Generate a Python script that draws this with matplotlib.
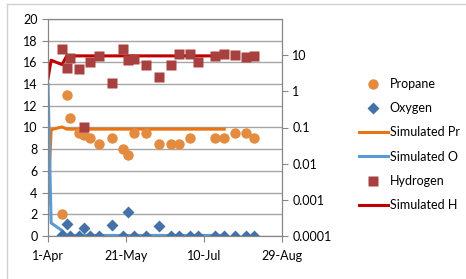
import numpy as np
import pandas as pd
import matplotlib
matplotlib.use("Agg")
import matplotlib.pyplot as plt
import matplotlib.dates as mdates
from matplotlib.lines import Line2D

plt.rcParams['font.family'] = ['Lato', 'DejaVu Sans']

# sample dates (measured)
sample_dates = pd.to_datetime([
    '2013-04-10', '2013-04-13', '2013-04-15', '2013-04-21', '2013-04-24',
    '2013-04-28', '2013-05-04', '2013-05-12', '2013-05-19', '2013-05-22',
    '2013-05-26', '2013-06-03', '2013-06-11', '2013-06-19', '2013-06-24',
    '2013-07-01', '2013-07-06', '2013-07-17', '2013-07-23', '2013-07-30',
    '2013-08-06', '2013-08-11'])
propane = [2.0, 13.0, 10.9, 9.5, 9.3, 9.0, 8.45, 9.0, 8.0, 7.5, 9.5,
           9.5, 8.5, 8.5, 8.5, 9.0, np.nan, 9.0, 9.0, 9.5, 9.5, 9.0]
oxygen = [0.05, 1.1, 0.0, 0.0, 0.7, 0.0, 0.0, 1.0, 0.0, 2.2, 0.0,
          0.0, 0.9, 0.0, 0.0, 0.0, 0.0, 0.0, 0.0, 0.0, 0.0, 0.0]
hydrogen = [17.2, 15.5, 16.4, 15.4, 10.0, 16.0, 16.6, 14.1, 17.2, 16.2, 16.3,
            15.8, 14.7, 15.8, 16.8, 16.8, 16.0, 16.6, 16.8, 16.7, 16.5, 16.6]

# simulated curves
sim_dates = pd.to_datetime(['2013-04-01', '2013-04-03', '2013-04-10',
                            '2013-04-13', '2013-07-23'])
sim_pr = [2.9, 9.8, 10.05, 9.85, 9.85]
sim_o = [14.0, 1.2, 0.5, 0.05, 0.05]
sim_h = [14.5, 16.2, 15.8, 16.6, 16.6]

xticks = pd.to_datetime(['2013-04-01', '2013-05-21', '2013-07-10', '2013-08-29'])
right_ticks = [0.0001, 0.001, 0.01, 0.1, 1, 10]
right_labels = ['0.0001', '0.001', '0.01', '0.1', '1', '10']

fig = plt.figure(figsize=(4.66, 2.79), dpi=100)
fig.add_artist(Line2D([7/466, 7/466], [0, 1 - 4/279], color='#d0d0d0', lw=1))
fig.add_artist(Line2D([7/466, 1], [1 - 4/279, 1 - 4/279], color='#d0d0d0', lw=1))

ax = fig.add_axes([48/466, 43/279, 234/466, 217/279])
ax.set_ylim(0, 20)
ax.set_xlim(xticks[0], xticks[-1])
ax.set_yticks(range(0, 21, 2))
ax.grid(axis='y', color='#a6a6a6', lw=1)
ax.set_axisbelow(True)
for s in ax.spines.values():
    s.set_color('#868686')
ax.tick_params(colors='#868686', labelcolor='black', labelsize=9, length=4)
ax.tick_params(axis='x', pad=6)
ax.set_xticks(xticks)
ax.xaxis.set_major_formatter(mdates.DateFormatter('%-d-%b'))

ax.plot(sample_dates, propane, 'o', color='#e38b3f', ms=7.5, mec='none', label='Propane', zorder=3)
ax.plot(sample_dates, oxygen, 'D', color='#4471a8', ms=6, mec='none', label='Oxygen', zorder=3)
ax.plot(sim_dates, sim_pr, '-', color='#ec7312', lw=2.2, label='Simulated Pr', zorder=2)
ax.plot(sim_dates, sim_o, '-', color='#5b9bd5', lw=2.2, label='Simulated O', zorder=2)
ax.plot(sample_dates, hydrogen, 's', color='#a8403f', ms=7, mec='none', label='Hydrogen', zorder=3)
ax.plot(sim_dates, sim_h, '-', color='#c00000', lw=2.2, label='Simulated H', zorder=2)

ax2 = ax.twinx()
ax2.set_yscale('log')
ax2.set_ylim(0.0001, 100)
ax2.set_yticks(right_ticks)
ax2.set_yticklabels(right_labels)
ax2.yaxis.set_minor_locator(matplotlib.ticker.NullLocator())
for s in ax2.spines.values():
    s.set_color('#868686')
ax2.tick_params(colors='#868686', labelcolor='black', labelsize=9, length=4)

h, l = ax.get_legend_handles_labels()
fig.legend(h, l, loc='upper left', bbox_to_anchor=(354/466, 1 - 73/279), frameon=False,
           fontsize=9, handlelength=2.3, handletextpad=0.15, labelspacing=0.98,
           borderaxespad=0)

fig.savefig('out.png', dpi=100)
